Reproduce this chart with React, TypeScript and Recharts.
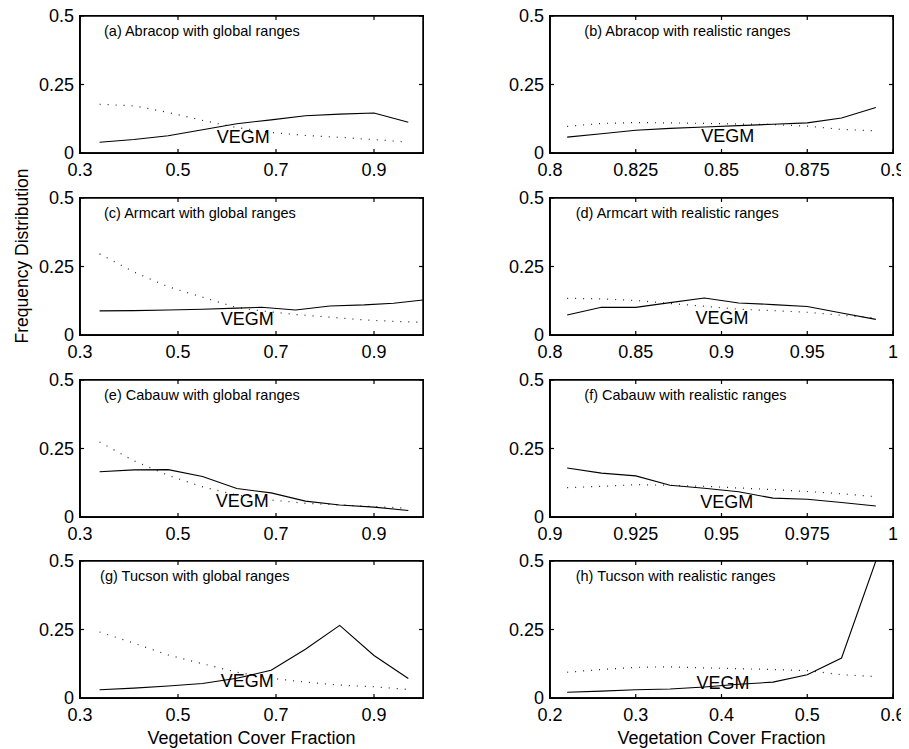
import React from 'react'
import { LineChart, Line, XAxis, YAxis, ReferenceDot, ReferenceArea, ReferenceLine } from 'recharts'

const FONT = '"Liberation Sans", Arial, Helvetica, sans-serif'

// (a) Abracop, global ranges
const xA = [0.34, 0.41, 0.48, 0.55, 0.62, 0.69, 0.76, 0.83, 0.9, 0.97]
const vegmA = [0.039, 0.049, 0.063, 0.085, 0.107, 0.121, 0.136, 0.142, 0.146, 0.112]
const dotA = [0.178, 0.172, 0.148, 0.119, 0.093, 0.075, 0.064, 0.057, 0.049, 0.04]

// (b) Abracop, realistic ranges
const xB = [0.805, 0.815, 0.825, 0.835, 0.845, 0.855, 0.865, 0.875, 0.885, 0.895]
const vegmB = [0.058, 0.07, 0.083, 0.09, 0.095, 0.1, 0.105, 0.11, 0.128, 0.166]
const dotB = [0.097, 0.108, 0.111, 0.11, 0.108, 0.106, 0.104, 0.098, 0.086, 0.081]

// (c) Armcart, global ranges
const xC = [0.34, 0.41, 0.48, 0.55, 0.62, 0.67, 0.74, 0.81, 0.88, 0.94, 1.0]
const vegmC = [0.088, 0.089, 0.091, 0.094, 0.098, 0.101, 0.091, 0.106, 0.11, 0.116, 0.128]
const dotC = [0.296, 0.23, 0.176, 0.138, 0.1, 0.088, 0.075, 0.065, 0.055, 0.05, 0.046]

// (d) Armcart, realistic ranges
const xD = [0.81, 0.83, 0.85, 0.87, 0.89, 0.91, 0.93, 0.95, 0.97, 0.99]
const vegmD = [0.073, 0.101, 0.101, 0.118, 0.135, 0.117, 0.111, 0.104, 0.08, 0.057]
const dotD = [0.134, 0.132, 0.126, 0.115, 0.105, 0.094, 0.089, 0.083, 0.072, 0.062]

// (e) Cabauw, global ranges
const xE = [0.34, 0.41, 0.48, 0.55, 0.62, 0.69, 0.76, 0.83, 0.9, 0.97]
const vegmE = [0.165, 0.172, 0.173, 0.148, 0.104, 0.088, 0.058, 0.044, 0.036, 0.024]
const dotE = [0.274, 0.205, 0.152, 0.11, 0.08, 0.062, 0.05, 0.044, 0.038, 0.032]

// (f) Cabauw, realistic ranges
const xF = [0.905, 0.915, 0.925, 0.935, 0.945, 0.955, 0.965, 0.975, 0.985, 0.995]
const vegmF = [0.179, 0.16, 0.15, 0.116, 0.105, 0.092, 0.069, 0.065, 0.053, 0.04]
const dotF = [0.107, 0.112, 0.118, 0.116, 0.112, 0.106, 0.1, 0.093, 0.085, 0.074]

// (g) Tucson, global ranges
const xG = [0.34, 0.41, 0.48, 0.55, 0.62, 0.69, 0.76, 0.83, 0.9, 0.97]
const vegmG = [0.03, 0.036, 0.044, 0.053, 0.072, 0.101, 0.178, 0.265, 0.155, 0.071]
const dotG = [0.241, 0.2, 0.157, 0.125, 0.094, 0.072, 0.058, 0.047, 0.041, 0.031]

// (h) Tucson, realistic ranges
const xH = [0.22, 0.26, 0.3, 0.34, 0.38, 0.42, 0.46, 0.5, 0.54, 0.58]
const vegmH = [0.021, 0.025, 0.03, 0.033, 0.04, 0.05, 0.058, 0.085, 0.146, 0.5]
const dotH = [0.094, 0.104, 0.112, 0.114, 0.11, 0.107, 0.104, 0.1, 0.085, 0.078]

const globalTicks = [0.3, 0.5, 0.7, 0.9]
const yTicks = [0, 0.25, 0.5]

const panels = [
  { title: '(a) Abracop with global ranges', x: xA, vegm: vegmA, dot: dotA, domain: [0.3, 1.0], ticks: globalTicks, titleX: 0.349, vegmAt: [0.633, 0.058] },
  { title: '(b) Abracop with realistic ranges', x: xB, vegm: vegmB, dot: dotB, domain: [0.8, 0.9], ticks: [0.8, 0.825, 0.85, 0.875, 0.9], titleX: 0.81, vegmAt: [0.8518, 0.062] },
  { title: '(c) Armcart with global ranges', x: xC, vegm: vegmC, dot: dotC, domain: [0.3, 1.0], ticks: globalTicks, titleX: 0.349, vegmAt: [0.6415, 0.058] },
  { title: '(d) Armcart with realistic ranges', x: xD, vegm: vegmD, dot: dotD, domain: [0.8, 1.0], ticks: [0.8, 0.85, 0.9, 0.95, 1], titleX: 0.815, vegmAt: [0.9003, 0.0645] },
  { title: '(e) Cabauw with global ranges', x: xE, vegm: vegmE, dot: dotE, domain: [0.3, 1.0], ticks: globalTicks, titleX: 0.349, vegmAt: [0.631, 0.058] },
  { title: '(f) Cabauw with realistic ranges', x: xF, vegm: vegmF, dot: dotF, domain: [0.9, 1.0], ticks: [0.9, 0.925, 0.95, 0.975, 1], titleX: 0.91, vegmAt: [0.9515, 0.0545] },
  { title: '(g) Tucson with global ranges', x: xG, vegm: vegmG, dot: dotG, domain: [0.3, 1.0], ticks: globalTicks, titleX: 0.341, vegmAt: [0.6415, 0.063] },
  { title: '(h) Tucson with realistic ranges', x: xH, vegm: vegmH, dot: dotH, domain: [0.2, 0.6], ticks: [0.2, 0.3, 0.4, 0.5, 0.6], titleX: 0.23, vegmAt: [0.4017, 0.0576] },
]

const PLOT_W = 343
const PLOT_H = 137
const LEFT_W = 48
const M = { top: 10, right: 17, bottom: 0, left: 0 }
const BOTTOM_H = 30
const CHART_W = LEFT_W + PLOT_W + M.right
const CHART_H = M.top + PLOT_H + BOTTOM_H

const colLeft = [24, 494]
const rowTop = [-2, 180, 362, 543]

const TICK = 4
const INK = '#000'
const FRAME_W = 1.5

const bottomTick = (props: any) => (
  <g>
    <line x1={props.x} x2={props.x} y1={props.y} y2={props.y - TICK} stroke={INK} strokeWidth={1.2} />
    <text x={props.x} y={props.y + 22.5} textAnchor="middle" fontSize={18} fontFamily={FONT} fill={INK}>
      {String(props.payload.value)}
    </text>
  </g>
)
const leftTick = (props: any) => (
  <g>
    <line x1={props.x} x2={props.x + TICK} y1={props.y} y2={props.y} stroke={INK} strokeWidth={1.2} />
    <text x={props.x - 6} y={props.y} dy="0.355em" textAnchor="end" fontSize={18} fontFamily={FONT} fill={INK}>
      {String(props.payload.value)}
    </text>
  </g>
)
// mirrored tick marks on the top and right edges of the box
const topTickShape = (props: any) => {
  const y = Math.min(props.y1, props.y2)
  return <line x1={props.x1} x2={props.x1} y1={y} y2={y + TICK} stroke={INK} strokeWidth={1.2} />
}
const rightTickShape = (props: any) => {
  const x = Math.max(props.x1, props.x2)
  return <line x1={x} x2={x - TICK} y1={props.y1} y2={props.y1} stroke={INK} strokeWidth={1.2} />
}

function Panel({ p, left, top }: { p: any, left: number, top: number }) {
  const data = p.x.map((x: number, i: number) => ({ x, vegm: p.vegm[i], other: p.dot[i] }))
  const axisLine = { stroke: INK, strokeWidth: FRAME_W }
  return (
    <div style={{ position: 'absolute', left, top, width: CHART_W, height: CHART_H }}>
      <LineChart width={CHART_W} height={CHART_H} data={data} margin={M}>
        <XAxis xAxisId="b" dataKey="x" type="number" domain={p.domain} ticks={p.ticks} interval={0}
          allowDataOverflow height={BOTTOM_H} axisLine={axisLine} tickLine={false} tickSize={0} tickMargin={0} tick={bottomTick} />
        <YAxis yAxisId="l" type="number" domain={[0, 0.5]} ticks={yTicks} interval={0} allowDataOverflow
          width={LEFT_W} axisLine={axisLine} tickLine={false} tickSize={0} tickMargin={0} tick={leftTick} />
        <ReferenceArea xAxisId="b" yAxisId="l" x1={p.domain[0]} x2={p.domain[1]} y1={0} y2={0.5}
          fill="none" stroke={INK} strokeWidth={FRAME_W} />
        {p.ticks.map((t: number) => (
          <ReferenceLine key={'t' + t} xAxisId="b" yAxisId="l" x={t} shape={topTickShape} />
        ))}
        {yTicks.map((t) => (
          <ReferenceLine key={'r' + t} xAxisId="b" yAxisId="l" y={t} shape={rightTickShape} />
        ))}
        <Line xAxisId="b" yAxisId="l" dataKey="other" stroke="#222" strokeWidth={1.2} strokeDasharray="1 7"
          dot={false} isAnimationActive={false} />
        <Line xAxisId="b" yAxisId="l" dataKey="vegm" stroke={INK} strokeWidth={1.1}
          dot={false} isAnimationActive={false} />
        <ReferenceDot xAxisId="b" yAxisId="l" x={p.titleX} y={0.447} r={0}
          label={{ value: p.title, position: 'right', offset: 0, fontSize: 14.5, fontFamily: FONT, fill: INK }} />
        <ReferenceDot xAxisId="b" yAxisId="l" x={p.vegmAt[0]} y={p.vegmAt[1]} r={0}
          label={{ value: 'VEGM', position: 'center', offset: 0, fontSize: 18, fontFamily: FONT, fill: INK }} />
      </LineChart>
      {/* axes box drawn over the plot area */}
      <div
        style={{
          position: 'absolute',
          left: LEFT_W + M.left - FRAME_W / 2,
          top: M.top - FRAME_W / 2,
          width: PLOT_W + FRAME_W,
          height: PLOT_H + FRAME_W,
          border: `${FRAME_W}px solid ${INK}`,
          boxSizing: 'border-box',
          pointerEvents: 'none',
        }}
      />
    </div>
  )
}

export default function App() {
  return (
    <div style={{ position: 'relative', width: 893, height: 741, fontFamily: FONT, background: '#fff' }}>
      <svg width={893} height={741} style={{ position: 'absolute', left: 0, top: 0 }}>
        <text transform="translate(13.5,248) rotate(-90)" textAnchor="middle" dy="0.35em" fontSize={17.5} fontFamily={FONT} fill={INK}>
          Frequency Distribution
        </text>
        <text x={243.5} y={735.5} textAnchor="middle" fontSize={18} fontFamily={FONT} fill={INK}>Vegetation Cover Fraction</text>
        <text x={713.5} y={735.5} textAnchor="middle" fontSize={18} fontFamily={FONT} fill={INK}>Vegetation Cover Fraction</text>
      </svg>
      {panels.map((p, i) => (
        <Panel key={p.title} p={p} left={colLeft[i % 2]} top={rowTop[Math.floor(i / 2)]} />
      ))}
    </div>
  )
}
